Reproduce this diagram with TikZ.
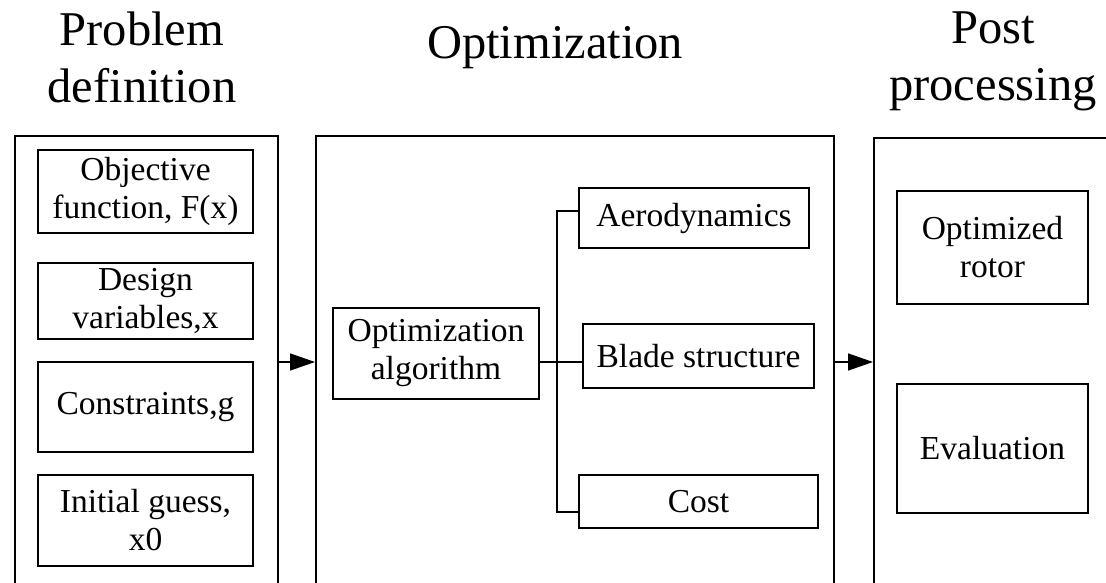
\documentclass[tikz,border=0pt]{standalone}
\usepackage{fontspec}
\setmainfont{Liberation Serif}
\usetikzlibrary{arrows.meta}
\begin{document}
\begin{tikzpicture}[x=1pt,y=-1pt,
  big/.style={draw, line width=1.8pt, inner sep=0pt, anchor=north west},
  box/.style={draw, line width=1.5pt, inner sep=0pt, align=center, font=\fontsize{33.5}{38}\selectfont},
  ttl/.style={inner sep=0pt, align=center, font=\fontsize{48.5}{57}\selectfont},
  conn/.style={line width=1.5pt},
  arr/.style={line width=1.5pt, -{Triangle[length=25pt,width=17pt]}}]
\useasboundingbox (0,0) rectangle (1106,583);
\clip (0,0) rectangle (1106,583);

% titles
\node[ttl] (t1) at (142,57) {Problem\\definition};
\node[ttl] (t2) at (555,47.5) {Optimization};
\node[ttl] (t3) at (993,61) {Post\\processing};

% big frames
\node[big, minimum width=263pt, minimum height=500pt] (pd) at (14,135) {};
\node[big, minimum width=518pt, minimum height=500pt] (opt) at (315,135) {};
\node[big, minimum width=300pt, minimum height=500pt] (pp) at (873,137) {};

% problem definition boxes
\node[box, minimum width=215pt, minimum height=83pt] (obj) at (145.5,191.5) {Objective\\function, F(x)};
\node[box, minimum width=215pt, minimum height=76pt] (des) at (145.5,301) {Design\\variables,x};
\node[box, minimum width=215pt, minimum height=90pt] (con) at (145.5,407) {Constraints,g};
\node[box, minimum width=215pt, minimum height=91pt] (ini) at (145.5,520.5) {Initial guess,\\x0};

% optimization boxes
\node[box, minimum width=206pt, minimum height=91pt] (alg) at (436,353.5) {Optimization\\algorithm};
\node[box, minimum width=230pt, minimum height=60pt] (aero) at (694,218) {Aerodynamics};
\node[box, minimum width=231pt, minimum height=64pt] (blade) at (698.5,356) {Blade structure};
\node[box, minimum width=239pt, minimum height=53pt] (cost) at (698.5,501.5) {Cost};

% post processing boxes
\node[box, minimum width=191pt, minimum height=113pt] (rot) at (992.5,247.5) {Optimized\\rotor};
\node[box, minimum width=191pt, minimum height=129pt] (eva) at (992.5,448.5) {Evaluation};

% connectors
\coordinate (ay) at (0,362);
\coordinate (ja) at (557,211);
\coordinate (jm) at (557,362);
\coordinate (jc) at (557,512);
\draw[conn] (alg.east |- ay) -- (blade.west |- ay);
\draw[conn] (aero.west |- ja) -- (ja) -- (jc) -- (cost.west |- jc);
\draw[arr] (pd.east |- ay) -- (opt.west |- ay);
\draw[arr] (opt.east |- ay) -- (pp.west |- ay);
\end{tikzpicture}
\end{document}
